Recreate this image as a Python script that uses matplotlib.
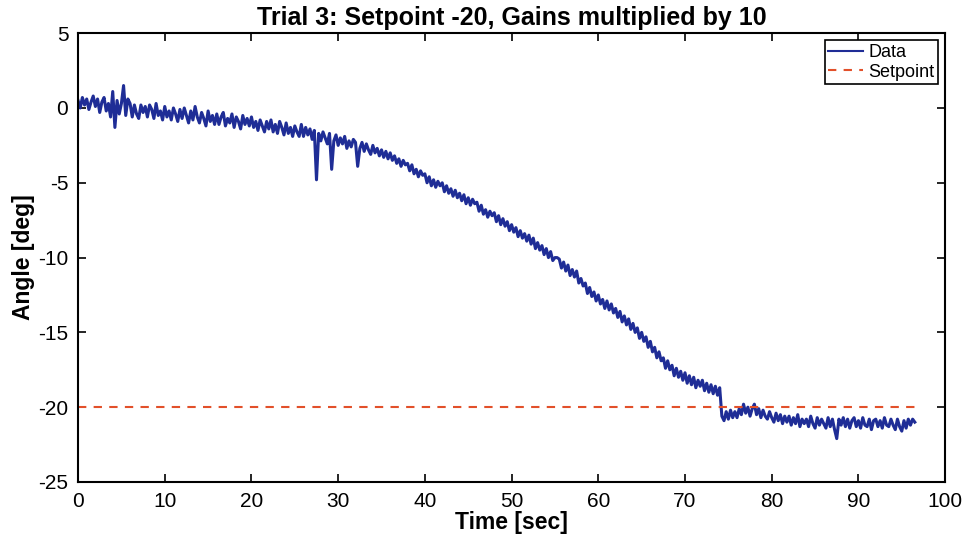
import numpy as np
import matplotlib.pyplot as plt

plt.rcParams['font.family'] = ['Liberation Sans', 'DejaVu Sans']
plt.rcParams['axes.unicode_minus'] = False

# sample spacing of the logged angle (sec)
dt = 0.25
setpoint = -20
t_end = 96.5

angle = [
    0.5, 0.0, 0.7, 0.2, 0.6, -0.1, 0.4, 0.8,
    0.1, 0.6, -0.3, 0.4, 0.7, -0.2, 0.3, -0.6,
    1.1, -1.3, 0.5, -0.4, 0.3, 1.5, -0.5, 0.6,
    0.3, -0.6, 0.2, -0.4, -0.7, 0.2, -0.3, 0.1,
    -0.6, 0.2, -0.1, -0.7, 0.3, -0.5, -0.2, -0.8,
    0.1, -0.6, -0.2, -0.8, 0.0, -0.4, -0.9, -0.1,
    -0.7, 0.0, -0.5, -1.0, -0.2, -0.8, 0.1, -0.6,
    -1.0, -0.3, -0.7, -1.2, -0.2, -0.9, -0.5, -1.1,
    -0.4, -1.1, -0.6, -0.3, -1.2, -0.7, -1.0, -0.4,
    -1.3, -0.6, -0.9, -1.4, -0.5, -1.1, -0.7, -1.2,
    -0.6, -1.3, -0.9, -1.5, -0.8, -1.2, -1.6, -0.9,
    -1.4, -0.8, -1.6, -1.1, -1.7, -0.9, -1.3, -1.8,
    -1.0, -1.7, -1.3, -1.9, -1.2, -1.6, -1.9, -1.1,
    -1.9, -1.3, -1.8, -1.4, -2.1, -1.5, -4.8, -1.7,
    -2.2, -1.6, -2.0, -2.4, -1.7, -4.1, -2.2, -1.8,
    -2.5, -2.0, -2.4, -1.9, -2.7, -2.2, -2.6, -2.1,
    -2.3, -3.9, -2.7, -2.3, -2.9, -2.4, -2.8, -3.1,
    -2.5, -3.0, -2.7, -3.2, -2.8, -3.3, -2.9, -3.4,
    -3.0, -3.5, -3.2, -3.7, -3.4, -3.9, -3.5, -3.8,
    -3.7, -4.2, -3.8, -4.4, -4.1, -4.6, -4.2, -4.5,
    -4.4, -5.0, -4.6, -5.2, -4.8, -5.3, -4.9, -5.2,
    -5.0, -5.6, -5.2, -5.7, -5.4, -5.9, -5.5, -6.0,
    -5.7, -6.2, -5.8, -6.4, -6.0, -6.5, -6.1, -6.4,
    -6.3, -6.9, -6.5, -7.1, -6.8, -7.3, -6.9, -7.2,
    -7.0, -7.6, -7.2, -7.8, -7.4, -7.9, -7.6, -8.2,
    -7.8, -8.3, -8.0, -8.6, -8.2, -8.7, -8.4, -8.9,
    -8.5, -9.1, -8.7, -9.4, -9.0, -9.5, -9.2, -9.8,
    -9.4, -10.0, -9.6, -10.2, -10.0, -10.0, -10.1, -10.7,
    -10.3, -10.9, -10.5, -11.2, -10.8, -11.3, -10.9, -11.7,
    -11.4, -11.9, -11.7, -12.4, -12.0, -12.6, -12.3, -12.9,
    -12.5, -13.1, -12.8, -13.4, -12.9, -13.5, -13.1, -13.7,
    -13.4, -14.0, -13.6, -14.3, -13.9, -14.5, -14.1, -14.8,
    -14.4, -15.0, -14.7, -15.4, -15.0, -15.6, -15.3, -16.0,
    -15.6, -16.3, -16.0, -16.7, -16.3, -16.9, -16.7, -17.4,
    -16.9, -17.5, -17.2, -17.9, -17.4, -18.0, -17.6, -18.2,
    -17.7, -18.4, -17.9, -18.5, -18.0, -18.7, -18.2, -18.6,
    -18.2, -18.9, -18.4, -19.0, -18.5, -19.1, -18.6, -19.2,
    -18.7, -20.6, -20.9, -20.3, -20.8, -20.2, -20.7, -20.3,
    -20.7, -20.1, -20.5, -19.8, -20.4, -20.0, -20.6, -20.1,
    -19.8, -20.5, -20.1, -20.7, -20.2, -20.6, -20.8, -20.3,
    -20.7, -21.0, -20.4, -20.9, -20.5, -21.1, -20.6, -21.0,
    -20.6, -21.2, -20.7, -21.1, -20.5, -21.3, -20.8, -21.1,
    -20.8, -21.3, -20.6, -21.1, -21.4, -20.7, -21.2, -20.8,
    -21.1, -21.4, -20.7, -21.3, -20.8, -21.5, -22.1, -20.8,
    -21.2, -20.7, -21.3, -20.8, -21.4, -20.9, -20.7, -21.3,
    -20.9, -21.4, -20.7, -21.2, -21.3, -20.8, -21.5, -20.9,
    -20.8, -21.3, -20.9, -21.4, -20.7, -21.2, -21.3, -20.8,
    -21.2, -21.5, -20.8, -21.3, -21.6, -20.9, -21.4, -20.8,
    -21.2, -20.8, -21.0,
]

xticks = list(range(0, 101, 10))
yticks = list(range(-25, 6, 5))

t = np.arange(len(angle)) * dt

fig = plt.figure(figsize=(9.78, 5.44), dpi=100)
ax = fig.add_axes([0.0798, 0.114, 0.8866, 0.825])

ax.plot(t, angle, color='#1f2d96', lw=2.2, label='Data')
ax.plot([0, t_end], [setpoint, setpoint], color='#e2502a', lw=1.5,
        ls=(0, (4, 3.5)), label='Setpoint')

ax.set_xlim(0, 100)
ax.set_ylim(-25, 5)
ax.set_xticks(xticks)
ax.set_yticks(yticks)
ax.tick_params(direction='in', top=True, right=True, length=6, width=1.2,
               labelsize=15, pad=7)
for s in ax.spines.values():
    s.set_linewidth(1.5)

ax.set_title('Trial 3: Setpoint -20, Gains multiplied by 10',
             fontsize=18, fontweight='bold', pad=6)
ax.set_xlabel('Time [sec]', fontsize=16.5, fontweight='bold', labelpad=0)
ax.set_ylabel('Angle [deg]', fontsize=16.5, fontweight='bold', labelpad=2)

leg = ax.legend(loc='upper right', fontsize=13, fancybox=False,
                edgecolor='black', framealpha=1, borderpad=0.2,
                labelspacing=0.15, handletextpad=0.3, handlelength=1.9,
                borderaxespad=0.4)
leg.get_frame().set_linewidth(1.2)
leg.get_lines()[0].set_linewidth(1.5)

fig.savefig('out.png', dpi=100)
